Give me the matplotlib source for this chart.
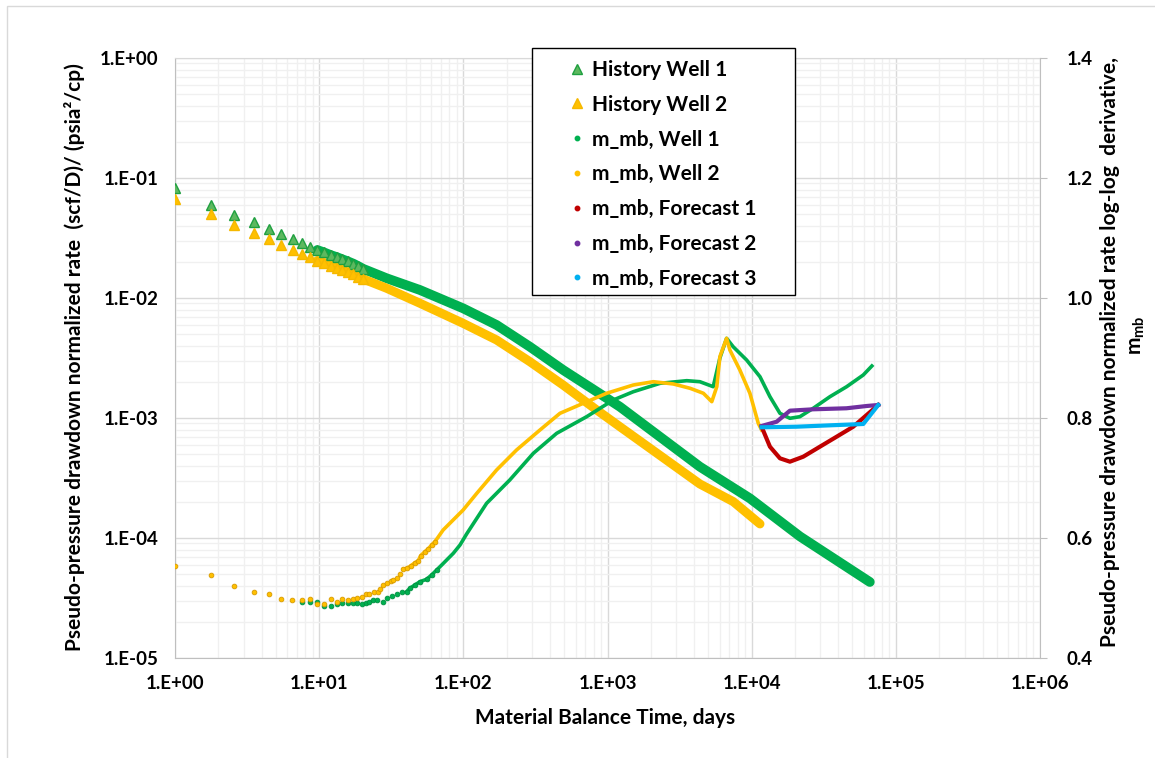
import numpy as np
import matplotlib
matplotlib.use('Agg')
import matplotlib.pyplot as plt
from matplotlib.ticker import LogLocator, FuncFormatter, NullFormatter
from matplotlib.lines import Line2D
from matplotlib.patches import Rectangle

plt.rcParams['font.family'] = ['Lato', 'DejaVu Sans']
plt.rcParams['font.weight'] = 'bold'
plt.rcParams['mathtext.fontset'] = 'custom'
plt.rcParams['mathtext.rm'] = 'Lato:bold'
plt.rcParams['mathtext.bf'] = 'Lato:bold'

# history, normalized rate (left axis)
hist_x_1 = [1.0, 1.77, 2.58, 3.52, 4.47, 5.42, 6.56, 7.61, 8.65, 9.70, 10.8, 12.0,
            13.4, 14.5, 15.8, 17.3, 18.7, 20.2, 29.4, 50.0, 99.7, 170, 289, 493,
            841, 1220, 4370, 9720, 21640, 66000]
hist_q_1 = [0.0820, 0.0599, 0.0492, 0.0427, 0.0374, 0.0341, 0.0310, 0.0289, 0.0268,
            0.0251, 0.0240, 0.0228, 0.0218, 0.0210, 0.0202, 0.0193, 0.0184, 0.0175,
            0.0146, 0.01166, 0.0082, 0.00596, 0.00393, 0.00251, 0.00166, 0.00124,
            3.93e-4, 2.14e-4, 1.03e-4, 4.3e-5]
hist_x_2 = [1.0, 1.77, 2.58, 3.52, 4.47, 5.42, 6.56, 7.61, 8.65, 9.70, 10.8, 12.0,
            13.4, 14.5, 15.8, 17.3, 18.7, 20.2, 29.4, 50.0, 99.7, 170, 289, 493,
            841, 1220, 4370, 7450, 11420]
hist_q_2 = [0.0665, 0.0501, 0.0408, 0.0348, 0.0308, 0.0275, 0.0251, 0.0234, 0.0218,
            0.0205, 0.0197, 0.0186, 0.0178, 0.0171, 0.0164, 0.0157, 0.0151, 0.0144,
            0.01205, 0.00904, 0.00615, 0.00447, 0.00295, 0.00188, 0.001167, 8.46e-4,
            2.82e-4, 2.01e-4, 1.31e-4]

# log-log derivative m_mb (right axis)
mmb_x_1 = [7.58, 8.70, 9.70, 10.8, 12.1, 13.4, 14.4, 15.9, 17.1, 18.4, 19.7, 21.1,
           22.2, 23.8, 25.3, 27.5, 29.4, 31.8, 34.4, 37.3, 40.4, 42.6, 46.1, 50.0,
           55.6, 60.2, 65.3, 70.8, 76.6, 85.2, 94.8, 105.6, 145, 210, 306, 444, 717,
           1097, 1510, 2314, 3546, 4370, 5410, 6020, 6700, 7440, 9220, 11420, 13390,
           15710, 18420, 21610, 26730, 34900, 45600, 59450, 68200]
mmb_1 = [0.4938, 0.4938, 0.4938, 0.4872, 0.4862, 0.4895, 0.4922, 0.4922, 0.4922,
         0.4912, 0.4900, 0.4912, 0.4933, 0.4967, 0.4967, 0.4938, 0.4995, 0.5033,
         0.5067, 0.5095, 0.5105, 0.5162, 0.5217, 0.5272, 0.5312, 0.5383, 0.5467,
         0.5550, 0.5633, 0.5745, 0.5883, 0.6070, 0.6578, 0.6967, 0.7412, 0.7745,
         0.8022, 0.8300, 0.8438, 0.8578, 0.8622, 0.8605, 0.8522, 0.9000, 0.9328,
         0.9188, 0.8967, 0.8688, 0.8355, 0.8078, 0.7995, 0.8022, 0.8162, 0.8355,
         0.8522, 0.8717, 0.8867]
mmb_x_2 = [1.0, 1.77, 2.58, 3.52, 4.49, 5.42, 6.49, 7.61, 8.70, 9.70, 10.8, 12.1,
           13.4, 14.4, 15.9, 17.1, 18.4, 19.9, 21.2, 22.2, 24.1, 25.4, 26.4, 27.8,
           29.7, 31.3, 32.7, 34.4, 36.3, 38.3, 40.6, 43.1, 46.1, 48.6, 50.6, 54.1,
           57.0, 60.2, 63.5, 72.4, 99.7, 124, 170, 234, 340, 468, 679, 986, 1510,
           2080, 2864, 3740, 4626, 5290, 5730, 6020, 6700, 7060, 8280, 9720, 11110,
           11720]
mmb_2 = [0.553, 0.538, 0.520, 0.510, 0.506, 0.498, 0.496, 0.496, 0.498, 0.4905,
         0.4905, 0.498, 0.494, 0.498, 0.496, 0.498, 0.4995, 0.502, 0.506, 0.506,
         0.510, 0.510, 0.5145, 0.5217, 0.5245, 0.5283, 0.530, 0.5338, 0.5395, 0.5478,
         0.5495, 0.5533, 0.5588, 0.5617, 0.5705, 0.5772, 0.5817, 0.5883, 0.5938,
         0.6133, 0.6467, 0.6745, 0.7133, 0.7467, 0.780, 0.8078, 0.8245, 0.8412,
         0.855, 0.8605, 0.8567, 0.8495, 0.8412, 0.8272, 0.8522, 0.9022, 0.9328,
         0.9133, 0.880, 0.8412, 0.7912, 0.780]

fc_x_1 = [11720, 13390, 15710, 18420, 22790, 29750, 38830, 50660, 62760, 75500]
fc_1 = [0.7855, 0.7522, 0.7328, 0.7272, 0.7355, 0.7522, 0.7688, 0.7855, 0.805, 0.8217]
fc_x_2 = [11720, 14910, 18420, 26730, 45450, 62760, 75500]
fc_2 = [0.7867, 0.7938, 0.8122, 0.8145, 0.8162, 0.820, 0.8217]
fc_x_3 = [11720, 20500, 34900, 59450, 75500]
fc_3 = [0.7845, 0.7855, 0.7878, 0.790, 0.8217]

labels = ['History Well 1', 'History Well 2', 'm_mb, Well 1', 'm_mb, Well 2',
          'm_mb, Forecast 1', 'm_mb, Forecast 2', 'm_mb, Forecast 3']

GREEN = '#00B050'
YELLOW = '#FFC000'
RED = '#C00000'
PURPLE = '#7030A0'
CYAN = '#00B0F0'

W, H = 1155, 758
fig = plt.figure(figsize=(W / 100, H / 100), dpi=100)
ax = fig.add_axes([175 / W, 1 - 658 / H, (1040 - 175) / W, 600 / H])
ax.set_xscale('log')
ax.set_yscale('log')
ax.set_xlim(1, 1e6)
ax.set_ylim(1e-5, 1)


def band(ax, x, y, color, fill, edge, lw):
    # dense part of the history shows up as a solid band of overlapping triangles
    x = np.asarray(x)
    y = np.asarray(y)
    dense = x >= 9.6
    sparse = x <= 21
    ax.plot(x[dense], y[dense], '-', color=color, lw=lw, solid_capstyle='round', zorder=3)
    h, = ax.plot(x[sparse], y[sparse], ls='none', marker='^', ms=7.5, mfc=fill,
                 mec=edge, mew=1, zorder=4)
    return h


h1 = band(ax, hist_x_1, hist_q_1, GREEN, '#5DB85F', '#1FA040', 7.0)
h2 = band(ax, hist_x_2, hist_q_2, YELLOW, YELLOW, '#F5B800', 6.5)

fmt = FuncFormatter(lambda v, _: '1.E%+03d' % int(round(np.log10(v))))
ax.xaxis.set_major_locator(LogLocator(base=10, numticks=20))
ax.yaxis.set_major_locator(LogLocator(base=10, numticks=20))
ax.xaxis.set_minor_locator(LogLocator(base=10, subs=np.arange(2, 10), numticks=20))
ax.yaxis.set_minor_locator(LogLocator(base=10, subs=np.arange(2, 10), numticks=20))
ax.xaxis.set_major_formatter(fmt)
ax.yaxis.set_major_formatter(fmt)
ax.xaxis.set_minor_formatter(NullFormatter())
ax.yaxis.set_minor_formatter(NullFormatter())
ax.grid(which='major', color='#D9D9D9', lw=1.0)
ax.grid(which='minor', color='#F0F0F0', lw=1.0)
ax.set_axisbelow(True)
ax.tick_params(which='both', length=0)
ax.tick_params(axis='y', pad=12, labelsize=13.5)
ax.tick_params(axis='x', pad=12, labelsize=13.5)
for s in ['left', 'bottom']:
    ax.spines[s].set_color('#BFBFBF')
ax.spines['top'].set_color('#D9D9D9')
ax.spines['right'].set_visible(False)

# m_mb curves on the secondary axis
ax2 = ax.twinx()
ax2.set_ylim(0.4, 1.4)
ax2.set_yticks(np.arange(0.4, 1.41, 0.2))
ax2.yaxis.set_major_formatter(FuncFormatter(lambda v, _: '%.1f' % v))
ax2.tick_params(axis='y', length=5, color='#BFBFBF', pad=14, labelsize=13.5)
for s in ['left', 'top', 'bottom']:
    ax2.spines[s].set_visible(False)
ax2.spines['right'].set_color('#BFBFBF')


def mmb(ax, x, y, color, edge):
    x = np.asarray(x)
    y = np.asarray(y)
    dense = x >= 38
    sparse = x <= 70
    ax.plot(x[dense], y[dense], '-', color=color, lw=2.6, zorder=3)
    ax.plot(x[sparse], y[sparse], ls='none', marker='o', ms=3.4, mfc=color, mec=edge,
            mew=0.6, zorder=4)


mmb(ax2, mmb_x_1, mmb_1, GREEN, '#009040')
mmb(ax2, mmb_x_2, mmb_2, YELLOW, '#D89A00')
ax2.plot(fc_x_1, fc_1, '-', color=RED, lw=3.0, zorder=5)
ax2.plot(fc_x_2, fc_2, '-', color=PURPLE, lw=3.0, zorder=5)
ax2.plot(fc_x_3, fc_3, '-', color=CYAN, lw=3.0, zorder=6)

# legend: entries placed without a frame, box drawn separately
handles = [h1, h2]
for c in [GREEN, YELLOW, RED, PURPLE, CYAN]:
    handles.append(Line2D([], [], ls='none', marker='o', ms=3.2, mfc=c, mec=c))
leg = fig.legend(handles, labels, loc='upper left',
                 bbox_to_anchor=(567 / W, 1 - 60 / H),
                 borderaxespad=0, borderpad=0, frameon=False, fontsize=15,
                 labelspacing=0.71, handlelength=1.0, handletextpad=0.2)
for t in leg.get_texts():
    t.set_fontweight('bold')
fig.patches.append(Rectangle((532 / W, 1 - 295 / H), (795 - 532) / W, (295 - 48) / H,
                             transform=fig.transFigure, fill=True, fc='white',
                             ec='black', lw=1.0, zorder=4))
leg.set_zorder(5)

# axis titles
fig.text(605 / W, 1 - 718 / H, 'Material Balance Time, days', ha='center', va='center',
         fontsize=15, fontweight='bold')
fig.text(75 / W, 1 - 357 / H, 'Pseudo-pressure drawdown normalized rate  (scf/D)/ (psia\u00b2/cp)',
         rotation=90, ha='center', va='center', fontsize=15, fontweight='bold')
fig.text(1110 / W, 1 - 352 / H, 'Pseudo-pressure drawdown normalized rate log-log  derivative,',
         rotation=90, ha='center', va='center', fontsize=15, fontweight='bold')
fig.text(1137 / W, 1 - 335 / H, r'm$_{\mathrm{mb}}$', rotation=90, ha='center', va='center',
         fontsize=15, fontweight='bold')

fig.patches.append(Rectangle((7 / W, -0.01), 1.02, 1 - 6 / H + 0.01, transform=fig.transFigure,
                             fill=False, ec='#D9D9D9', lw=1.0))

fig.savefig('out.png', dpi=100)
